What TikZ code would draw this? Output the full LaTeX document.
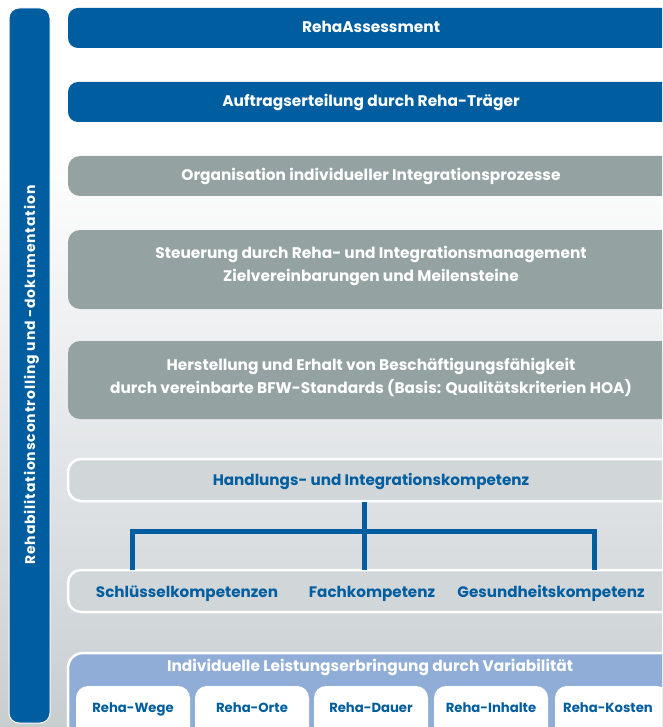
\documentclass[tikz,border=0pt]{standalone}
\usepackage{fontspec}
\setmainfont{Poppins}
\definecolor{rblue}{RGB}{0,94,160}
\definecolor{rgray}{RGB}{148,162,162}
\definecolor{rlight}{RGB}{209,214,217}
\definecolor{rlblue}{RGB}{143,173,214}
\definecolor{bgbot}{RGB}{200,206,208}
\definecolor{bgmid}{RGB}{226,229,231}
\tikzset{
  bar/.style={fill=rblue, draw=white, line width=1pt, rounded corners=10pt},
  darkbox/.style={fill=rblue, rounded corners=10pt, minimum width=652pt, inner sep=0pt},
  graybox/.style={fill=rgray, rounded corners=12pt, minimum width=652pt, inner sep=0pt},
  lightbox/.style={fill=rlight, draw=white, line width=2.5pt, rounded corners=13pt, minimum width=652pt, inner sep=0pt},
  lbluebox/.style={fill=rlblue, draw=white, line width=2.5pt, rounded corners=15pt, minimum width=652pt, minimum height=110pt, inner sep=0pt},
  wbox/.style={fill=white, rounded corners=12pt, minimum height=60pt, inner sep=0pt},
  wtxt/.style={text=white, font=\bfseries\fontsize{15.4}{23}\selectfont, align=center, inner sep=0pt, anchor=base},
  btxt/.style={text=rblue, font=\bfseries\fontsize{15.2}{23}\selectfont, align=center, inner sep=0pt, anchor=base},
  stxt/.style={text=rblue, font=\bfseries\fontsize{13.2}{16}\selectfont, inner sep=0pt, anchor=base},
  conn/.style={draw=rblue, line width=5pt},
}
\begin{document}
\begin{tikzpicture}[x=1pt,y=-1pt]
\useasboundingbox (0,0) rectangle (662,727);
\clip (0,0) rectangle (662,727);
% background
\fill[white] (0,0) rectangle (662,150);
\shade[top color=white, bottom color=bgmid] (0,150) rectangle (662,460);
\shade[top color=bgmid, bottom color=bgbot] (0,460) rectangle (662,727);
% left bar
\path[bar] (9,8) rectangle (50,723);
\node[text=white, font=\fontsize{14}{16}\selectfont\bfseries\addfontfeatures{LetterSpace=6}, rotate=90, inner sep=0pt, anchor=base] (vt) at (35,375) {Rehabilitationscontrolling und -dokumentation};
% boxes
\node[darkbox, minimum height=40pt] (b1) at (394,28) {};
\node[wtxt] (t1) at (371,33) {RehaAssessment};
\node[darkbox, minimum height=40pt] (b2) at (394,102) {};
\node[wtxt] (t2) at (371,107) {Auftragserteilung durch Reha-Träger};
\node[graybox, minimum height=40pt] (b3) at (394,176) {};
\node[wtxt] (t3) at (371,181) {Organisation individueller Integrationsprozesse};
\node[graybox, minimum height=79pt] (b4) at (394,269.5) {};
\node[wtxt] (t4) at (371,281) {Steuerung durch Reha- und Integrationsmanagement\\Zielvereinbarungen und Meilensteine};
\node[graybox, minimum height=78pt] (b5) at (394,380) {};
\node[wtxt] (t5) at (371,393) {Herstellung und Erhalt von Beschäftigungsfähigkeit\\durch vereinbarte BFW-Standards (Basis: Qualitätskriterien HOA)};
\node[lightbox, minimum height=42pt] (b6) at (394,480) {};
\node[btxt] (t6) at (371,485) {Handlungs- und Integrationskompetenz};
\node[lightbox, minimum height=42pt] (b7) at (394,591) {};
\node[btxt] (k1) at (187,597) {Schlüsselkompetenzen};
\node[btxt] (k2) at (372,597) {Fachkompetenz};
\node[btxt] (k3) at (551,597) {Gesundheitskompetenz};
% bracket
\coordinate (hub) at (364,531);
\coordinate (legL) at (132,570);
\coordinate (legM) at (364,570);
\coordinate (legR) at (594,570);
\draw[conn] (b6.south -| hub) -- (hub);
\draw[conn] (legL) |- (hub) -| (legR);
\draw[conn] (hub) -- (legM);
% bottom block
\node[lbluebox] (b8) at (394,708) {};
\node[wtxt] (t8) at (370,671) {Individuelle Leistungserbringung durch Variabilität};
\node[wbox, minimum width=114pt] (r1) at (133,716) {};
\node[wbox, minimum width=114pt] (r2) at (252,716) {};
\node[wbox, minimum width=114pt] (r3) at (371,716) {};
\node[wbox, minimum width=114pt] (r4) at (491,716) {};
\node[wbox, minimum width=114pt] (r5) at (612,716) {};
\node[stxt] (rt1) at (133,712) {Reha-Wege};
\node[stxt] (rt2) at (252,712) {Reha-Orte};
\node[stxt] (rt3) at (371,712) {Reha-Dauer};
\node[stxt] (rt4) at (491,712) {Reha-Inhalte};
\node[stxt] (rt5) at (608,712) {Reha-Kosten};
\end{tikzpicture}
\end{document}
